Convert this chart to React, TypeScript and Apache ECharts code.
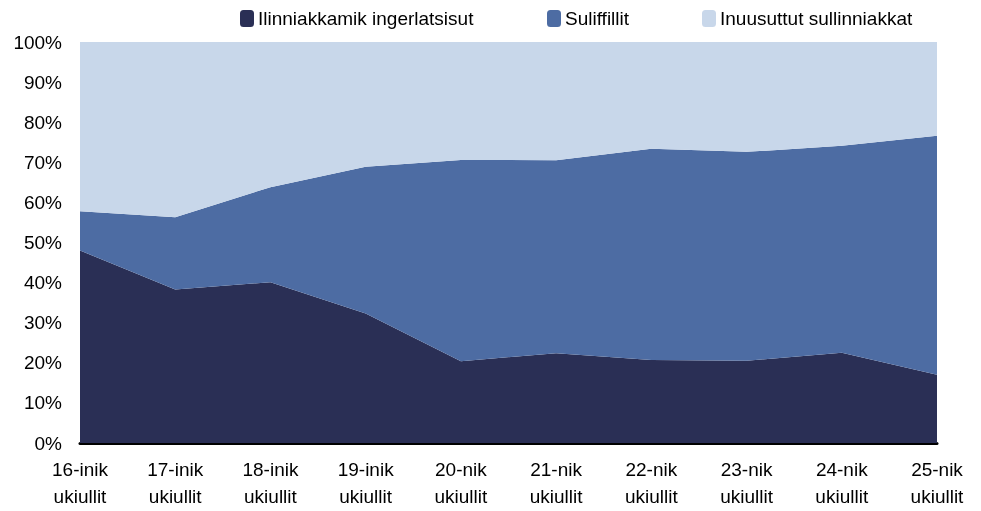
import React, { useEffect, useRef } from "react";
import * as echarts from "echarts";

const categories = [
  "16-inik\nukiullit",
  "17-inik\nukiullit",
  "18-inik\nukiullit",
  "19-inik\nukiullit",
  "20-nik\nukiullit",
  "21-nik\nukiullit",
  "22-nik\nukiullit",
  "23-nik\nukiullit",
  "24-nik\nukiullit",
  "25-nik\nukiullit",
];
const seriesNames = ["Ilinniakkamik ingerlatsisut", "Suliffillit", "Inuusuttut sullinniakkat"];
const ilinniakkamik = [48.0, 38.3, 40.1, 32.3, 20.4, 22.4, 20.7, 20.5, 22.5, 17.0];
const suliffillit = [9.8, 18.0, 23.7, 36.6, 50.2, 48.1, 52.7, 52.1, 51.6, 59.6];
const inuusuttut = [42.2, 43.7, 36.2, 31.1, 29.4, 29.5, 26.6, 27.4, 25.9, 23.4];
const colors = ["#2A2F55", "#4D6CA3", "#C8D7EA"];

export default function App() {
  const ref = useRef<HTMLDivElement>(null);
  useEffect(() => {
    if (!ref.current) return;
    const chart = echarts.init(ref.current, undefined, { renderer: "svg" });
    const font = "Liberation Sans";
    const values = [ilinniakkamik, suliffillit, inuusuttut];
    const legendLefts = [240, 547, 702];
    chart.setOption({
      animation: false,
      color: colors,
      legend: seriesNames.map((n, i) => ({
        data: [n],
        left: legendLefts[i],
        top: 9,
        padding: 0,
        icon: "roundRect",
        itemWidth: 14,
        itemHeight: 17,
        itemGap: 4,
        textStyle: { fontFamily: font, fontSize: 19, color: "#000", padding: [0, 0, 0, -1] },
      })),
      grid: { left: 80, right: 44, top: 42, bottom: 68 },
      xAxis: {
        type: "category",
        data: categories,
        boundaryGap: false,
        axisLine: { lineStyle: { color: "#000", width: 3 } },
        axisTick: { show: false },
        axisLabel: {
          fontFamily: font,
          fontSize: 19,
          color: "#000",
          lineHeight: 27,
          margin: 13,
          interval: 0,
        },
      },
      yAxis: {
        type: "value",
        min: 0,
        max: 100,
        interval: 10,
        axisLine: { show: false },
        axisTick: { show: false },
        splitLine: { show: false },
        axisLabel: {
          fontFamily: font,
          fontSize: 19,
          color: "#000",
          margin: 18,
          formatter: (v: number) => v + "%",
        },
      },
      series: seriesNames.map((n, i) => ({
        name: n,
        type: "line",
        stack: "total",
        data: values[i],
        symbol: "none",
        lineStyle: { width: 0 },
        areaStyle: { color: colors[i], opacity: 1 },
        itemStyle: { color: colors[i] },
        z: 2,
      })),
    });
    return () => chart.dispose();
  }, []);
  return (
    <div
      ref={ref}
      style={{ position: "fixed", left: 0, top: 0, width: 981, height: 511 }}
    />
  );
}
